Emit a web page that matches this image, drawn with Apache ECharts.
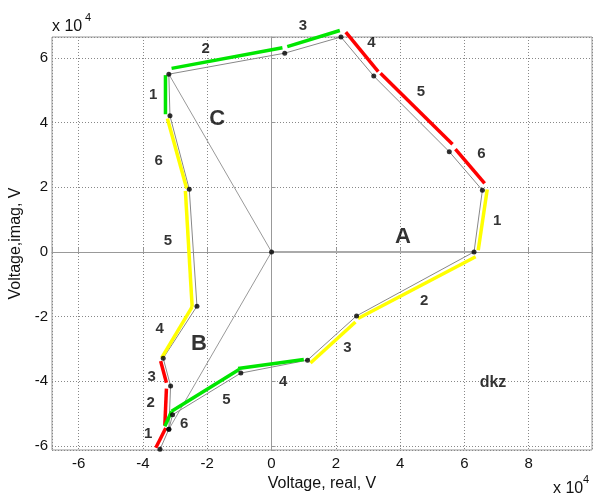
<!DOCTYPE html>
<html>
<head>
<meta charset="utf-8">
<script src="https://cdn.jsdelivr.net/npm/echarts@6/dist/echarts.min.js"></script>
<style>
  html, body { margin: 0; padding: 0; background: #fff; }
  #chart { width: 593px; height: 493px; }
</style>
</head>
<body>
<div id="chart"></div>
<script>
// voltage trajectory, V: [real, imag]
const origin = [0, 0];
const trajectory = [
  [-34700, -61100], [-31950, -54900], [-31400, -41500], [-33700, -32900],
  [-23200, -16800], [-25600, 19400], [-31600, 42100], [-31950, 55000],
  [4100, 61500], [21600, 66500], [31800, 54400], [55300, 31000],
  [65600, 19100], [63000, 0], [26450, -19800], [11200, -33500],
  [-9550, -37500], [-30800, -50400], [-31950, -54900]
];
const phaseEnds = [[63000, 0], [-31950, 55000], [-31950, -54900]];

// coloured sector segments (drawn slightly beside the trajectory)
const yellowSegs = [
  [[67100, 19300], [64300, 500]],
  [[63500, -1500], [26900, -20600]],
  [[26100, -21700], [12100, -34400]],
  [[-32400, 41300], [-26400, 19600]],
  [[-26800, 18900], [-24700, -17000]],
  [[-24700, -17000], [-34200, -32800]]
];
const redSegs = [
  [[23100, 68000], [33200, 55800]],
  [[33900, 55300], [56300, 33300]],
  [[57200, 31800], [66300, 21200]],
  [[-34500, -33800], [-32700, -40500]],
  [[-32700, -42300], [-33200, -53700]],
  [[-32900, -54500], [-36000, -60600]]
];
const greenSegs = [
  [[-33000, 54700], [-33000, 42600]],
  [[-31100, 56800], [3400, 63200]],
  [[4900, 63500], [21250, 68500]],
  [[-33200, -54000], [-31100, -49300]],
  [[-31100, -49300], [-10100, -36400]],
  [[-10400, -36100], [10050, -33300]]
];

const segLabels = [
  [31100, 64600, '4'], [46500, 49600, '5'], [65300, 30200, '6'],
  [70200, 9600, '1'], [47500, -15000, '2'], [23600, -29600, '3'],
  [-36800, 48500, '1'], [-20500, 62800, '2'], [9800, 69900, '3'],
  [-35100, 28100, '6'], [-32200, 3400, '5'], [-34800, -23700, '4'],
  [-37300, -38700, '3'], [-37600, -46800, '2'], [-38400, -56300, '1'],
  [-27200, -53200, '6'], [-14000, -45900, '5'], [3600, -40300, '4']
];
const phaseLabels = [[40900, 4500, 'A'], [-22600, -28600, 'B'], [-16900, 41000, 'C']];
const noteLabels = [[68900, -40300, 'dkz']];

const FONT = "'Liberation Sans', Arial, sans-serif";

function tickFmt(v) {
  const u = v / 1e4;
  if (Math.abs(u / 2 - Math.round(u / 2)) > 1e-6) return '';
  return String(Math.round(u));
}

function segSeries(segs, color) {
  return segs.map(s => ({
    type: 'line', data: s, symbol: 'none', clip: false, z: 3,
    lineStyle: { color: color, width: 3.5, cap: 'butt' }
  }));
}

function labelSeries(rows, size) {
  return {
    type: 'scatter', data: rows, symbolSize: 1, clip: false, z: 6,
    itemStyle: { color: 'transparent' },
    label: {
      show: true, position: 'inside', formatter: p => p.data[2],
      color: '#000', fontWeight: 'bold', fontSize: size, fontFamily: FONT
    }
  };
}

const axisCommon = {
  type: 'value',
  axisLine: { show: true, lineStyle: { color: '#999', width: 1 } },
  axisTick: { show: true, inside: true, length: 4, lineStyle: { color: '#999' } },
  splitLine: { show: true, lineStyle: { type: [1, 2], color: '#888', width: 1 } },
  axisLabel: { formatter: tickFmt, color: '#111', fontSize: 15, fontFamily: FONT },
  nameLocation: 'middle',
  nameTextStyle: { color: '#111', fontSize: 16, fontFamily: FONT }
};

const chart = echarts.init(document.getElementById('chart'));
chart.setOption({
  animation: false,
  grid: {
    left: 52, right: 1, top: 37, bottom: 43, show: true,
    borderColor: '#999', borderWidth: 1, outerBoundsMode: 'none'
  },
  xAxis: Object.assign({}, axisCommon, {
    min: -68300, max: 99700, splitNumber: 8,
    name: 'Voltage, real, V', nameGap: 21,
    axisLabel: Object.assign({}, axisCommon.axisLabel, { margin: 6 })
  }),
  yAxis: Object.assign({}, axisCommon, {
    min: -61300, max: 66500, splitNumber: 6,
    name: 'Voltage,imag, V', nameGap: 22,
    axisLabel: Object.assign({}, axisCommon.axisLabel, { margin: 4 })
  }),
  graphic: [
    { type: 'text', left: 52, top: 19, style: { text: 'x 10', font: '16px ' + FONT, fill: '#111' } },
    { type: 'text', left: 85, top: 12, style: { text: '4', font: '11px ' + FONT, fill: '#111' } },
    { type: 'text', left: 553, top: 481, style: { text: 'x 10', font: '16px ' + FONT, fill: '#111' } },
    { type: 'text', left: 583, top: 474, style: { text: '4', font: '11px ' + FONT, fill: '#111' } }
  ],
  series: [
    {
      type: 'line', data: [origin, phaseEnds[0]], symbol: 'none', z: 2,
      lineStyle: { color: '#aaa', width: 2 }
    },
    {
      type: 'line', data: [phaseEnds[1], origin, phaseEnds[2]], symbol: 'none', z: 2,
      lineStyle: { color: '#999', width: 1 }
    },
    {
      type: 'line', data: trajectory, symbol: 'none', z: 2, clip: false,
      lineStyle: { color: '#888', width: 1 }
    }
  ]
    .concat(segSeries(yellowSegs, '#ffff00'))
    .concat(segSeries(redSegs, '#ff0000'))
    .concat(segSeries(greenSegs, '#00e600'))
    .concat([
      {
        type: 'scatter', data: trajectory.concat([origin]), symbolSize: 5, z: 5, clip: false,
        itemStyle: { color: '#000' }
      },
      labelSeries(segLabels, 15),
      labelSeries(phaseLabels, 22),
      labelSeries(noteLabels, 16)
    ])
});
</script>
</body>
</html>
